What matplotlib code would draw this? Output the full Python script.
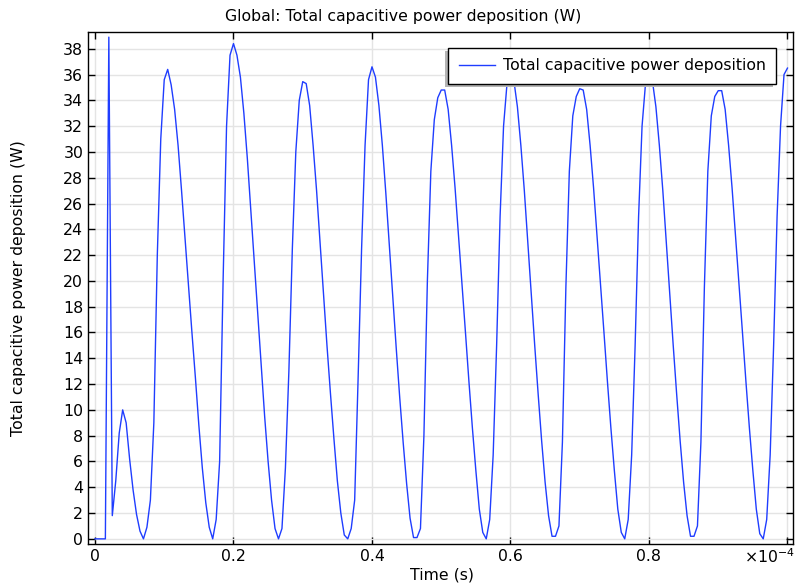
import numpy as np
import matplotlib
matplotlib.use("Agg")
import matplotlib.pyplot as plt
from matplotlib.ticker import FixedLocator, FuncFormatter
from matplotlib.patches import Rectangle

# Output times of the transient study: 0 to 1e-4 s every 5e-7 s
time = np.linspace(0.0, 1e-4, 201)

# Total capacitive power deposition (W), one list per stretch of the run
startup = [0.0, 0.0, 0.0, 0.0, 38.9, 1.8, 4.5, 8.2, 10.0, 9.0,
           6.2, 3.8, 1.9, 0.6, 0.0, 0.9, 3.0, 9.0, 22.0, 31.0, 35.6]
cycle_1 = [36.4, 35.2, 33.3, 30.5, 27.0, 23.3, 19.5, 16.0, 12.5, 8.8,
           5.5, 2.8, 0.9, 0.0, 1.5, 6.0, 20.0, 32.0, 37.5]
cycle_2 = [38.4, 37.5, 35.8, 33.0, 29.5, 25.5, 21.5, 17.5, 13.5, 9.5,
           6.0, 3.0, 0.8, 0.0, 0.8, 5.5, 13.0, 22.5, 30.0, 34.0]
cycle_3 = [35.45, 35.3, 33.6, 30.5, 27.0, 23.0, 19.0, 15.0, 11.3, 7.8,
           4.5, 2.0, 0.3, 0.0, 0.8, 3.0, 12.5, 22.5, 30.5, 35.6]
cycle_4 = [36.6, 35.8, 33.6, 30.5, 26.8, 22.8, 18.8, 14.8, 11.0, 7.5,
           4.3, 1.6, 0.1, 0.1, 0.8, 8.0, 20.0, 28.5, 32.5, 34.2]
cycle_5 = [34.8, 34.8, 33.3, 30.5, 27.2, 23.5, 19.8, 16.0, 12.2, 8.6,
           5.3, 2.3, 0.5, 0.0, 1.5, 6.5, 15.0, 25.0, 32.0, 35.3]
cycle_6 = [36.2, 35.5, 33.5, 30.5, 27.0, 23.0, 19.0, 15.0, 11.2, 7.6,
           4.4, 1.8, 0.2, 0.2, 1.0, 7.5, 19.5, 28.5, 32.8, 34.3]
cycle_7 = [34.9, 34.8, 33.3, 30.5, 27.2, 23.5, 19.8, 16.0, 12.2, 8.6,
           5.3, 2.3, 0.5, 0.0, 1.5, 6.5, 15.0, 25.0, 32.0, 35.3]
cycle_8 = [36.2, 35.5, 33.5, 30.5, 27.0, 23.0, 19.0, 15.0, 11.2, 7.6,
           4.4, 1.8, 0.2, 0.2, 1.0, 7.5, 19.5, 28.5, 32.8, 34.3]
cycle_9 = [34.75, 34.75, 33.3, 30.5, 27.2, 23.5, 19.8, 16.0, 12.2, 8.6,
           5.3, 2.3, 0.4, 0.0, 1.5, 6.5, 15.0, 25.0, 32.0, 36.0]
final = [36.5]

power = np.array(startup + cycle_1 + cycle_2 + cycle_3 + cycle_4 + cycle_5
                 + cycle_6 + cycle_7 + cycle_8 + cycle_9 + final)

x_ticks = [0.0, 0.2e-4, 0.4e-4, 0.6e-4, 0.8e-4, 1.0e-4]
x_tick_labels = ["0", "0.2", "0.4", "0.6", "0.8", ""]
y_ticks = list(range(0, 40, 2))

title = "Global: Total capacitive power deposition (W)"
series_label = "Total capacitive power deposition"
x_label = "Time (s)"
y_label = "Total capacitive power deposition (W)"

plt.rcParams["font.family"] = ["DejaVu Sans"]
FS = 11.3

fig = plt.figure(figsize=(7.97, 5.88), dpi=100)
ax = fig.add_axes([0.1104, 0.0748, 0.8846, 0.8708])

line_color = "#1f3dff"
ax.plot(time, power, color=line_color, lw=1.0, label=series_label, zorder=3)

ax.set_xlim(-0.0101e-4, 1.008e-4)
ax.set_ylim(-0.4, 39.3)

ax.xaxis.set_major_locator(FixedLocator(x_ticks))
ax.xaxis.set_major_formatter(FuncFormatter(
    lambda v, pos: x_tick_labels[pos] if pos is not None and pos < len(x_tick_labels) else ""))
ax.yaxis.set_major_locator(FixedLocator(y_ticks))

ax.grid(True, color="#e4e4e4", lw=1.0, zorder=0)
ax.set_axisbelow(True)

ax.tick_params(direction="in", length=5, width=1.0, top=True, right=True,
               labelsize=FS, colors="black", pad=3.5)
for s in ax.spines.values():
    s.set_linewidth(1.0)
    s.set_color("black")

fig.text(403 / 797, 1 - 17 / 588, title, ha="center", va="center", fontsize=FS)

ax.set_xlabel(x_label, fontsize=FS)
ax.xaxis.label.set(va="center")
ax.xaxis.set_label_coords(0.502, -31 / 512)

ax.set_ylabel(y_label, fontsize=FS)
ax.yaxis.label.set(va="center", ha="center")
ax.yaxis.set_label_coords(-69 / 705, 0.5)

fig.text(0.998, 1 - 557 / 588, r"$\times10^{-4}$", ha="right", va="center",
         fontsize=FS)

leg = ax.legend(loc="upper right", bbox_to_anchor=(0.976, 0.969),
                fancybox=False, shadow=False, framealpha=1.0,
                edgecolor="black", fontsize=FS, handlelength=2.3,
                handletextpad=0.5, borderpad=0.66, borderaxespad=0.0)
leg.get_frame().set_linewidth(1.0)
leg.set_zorder(6)

# Drop shadow under the legend box, offset down and to the left
fig.canvas.draw()
bb = leg.get_window_extent()
shadow = Rectangle((bb.x0 - 3, bb.y0 - 3), bb.width, bb.height,
                   transform=None, facecolor="#b4b4b4", edgecolor="none",
                   zorder=5.5)
ax.add_artist(shadow)

fig.savefig("out.png", dpi=100)
